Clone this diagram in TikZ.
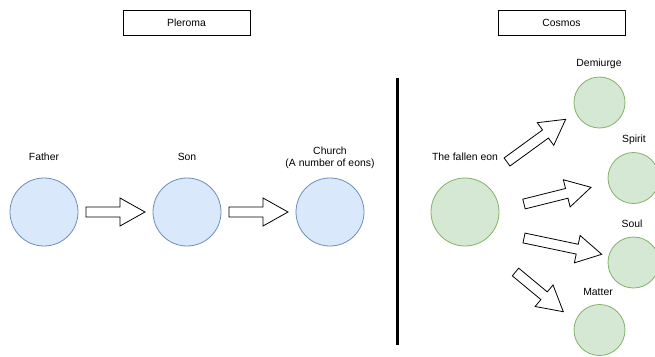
\documentclass[tikz,border=0pt]{standalone}
\usepackage{fontspec}
\setmainfont{Liberation Sans}
\usetikzlibrary{calc}
\definecolor{bluefill}{HTML}{DAE8FC}
\definecolor{bluedraw}{HTML}{6C8EBF}
\definecolor{greenfill}{HTML}{D5E8D4}
\definecolor{greendraw}{HTML}{82B366}
\newcommand{\blockarr}[2]{%
  \path ($(#2)!25pt!(#1)$) coordinate (hb);
  \draw[arrowbody] ($(#1)!5pt!90:(#2)$) -- ($(hb)!5pt!90:(#2)$) -- ($(hb)!14pt!90:(#2)$) -- (#2)
    -- ($(hb)!14pt!-90:(#2)$) -- ($(hb)!5pt!-90:(#2)$) -- ($(#1)!5pt!-90:(#2)$) -- cycle;}
\begin{document}
\begin{tikzpicture}[x=1pt,y=-1pt,
  txt/.style={font=\fontsize{10.4}{12.5}\selectfont, inner sep=0pt, align=center},
  titlebox/.style={draw, line width=0.8pt, minimum width=127pt, minimum height=25.5pt, inner sep=0pt, font=\fontsize{10.4}{12.5}\selectfont},
  bluec/.style={circle, draw=bluedraw, fill=bluefill, line width=0.8pt, minimum size=68pt, inner sep=0pt},
  greenbig/.style={circle, draw=greendraw, fill=greenfill, line width=0.8pt, minimum size=68pt, inner sep=0pt},
  greensmall/.style={circle, draw=greendraw, fill=greenfill, line width=0.8pt, minimum size=51pt, inner sep=0pt},
  arrowbody/.style={draw=black, fill=white, line width=0.8pt, line join=miter},
  divider/.style={line width=3pt}]
\useasboundingbox (0,0) rectangle (655,356);
\fill[white] (0,0) rectangle (655,356);
% title boxes
\node[titlebox] (pleroma) at (186.5,23) {Pleroma};
\node[titlebox] (cosmos) at (561.5,23) {Cosmos};
% divider
\coordinate (divtop) at (397,78);
\coordinate (divbot) at (397,345);
\draw[divider] (divtop) -- (divbot);
% left side
\node[bluec] (father) at (44,212) {};
\node[bluec] (son) at (187,212) {};
\node[bluec] (church) at (330,212) {};
\node[txt] (fatherl) at (44,157) {Father};
\node[txt] (sonl) at (187,157) {Son};
\node[txt] (churchl) at (330,158) {Church\\(A number of eons)};
% right side
\node[greenbig] (fallen) at (465,212) {};
\node[greensmall] (demiurge) at (599.5,102.5) {};
\node[greensmall] (spirit) at (633.5,178) {};
\node[greensmall] (soul) at (633.5,262.5) {};
\node[greensmall] (matter) at (599.5,330) {};
\node[txt] (fallenl) at (465,157) {The fallen eon};
\node[txt] (demiurgel) at (599,64) {Demiurge};
\node[txt] (spiritl) at (634,140) {Spirit};
\node[txt] (soull) at (632,224) {Soul};
\node[txt] (matterl) at (598,292) {Matter};
% arrow ends
\coordinate (a1s) at (86,212);   \coordinate (a1e) at (145,212);
\coordinate (a2s) at (229,212);  \coordinate (a2e) at (288,212);
\coordinate (a3s) at (507,162);  \coordinate (a3e) at (565.7,119.3);
\coordinate (a4s) at (524,204);  \coordinate (a4e) at (591,187.3);
\coordinate (a5s) at (524,238);  \coordinate (a5e) at (601.7,254.3);
\coordinate (a6s) at (515.5,272); \coordinate (a6e) at (563.3,311.7);
\blockarr{a1s}{a1e}
\blockarr{a2s}{a2e}
\blockarr{a3s}{a3e}
\blockarr{a4s}{a4e}
\blockarr{a5s}{a5e}
\blockarr{a6s}{a6e}
\end{tikzpicture}
\end{document}
